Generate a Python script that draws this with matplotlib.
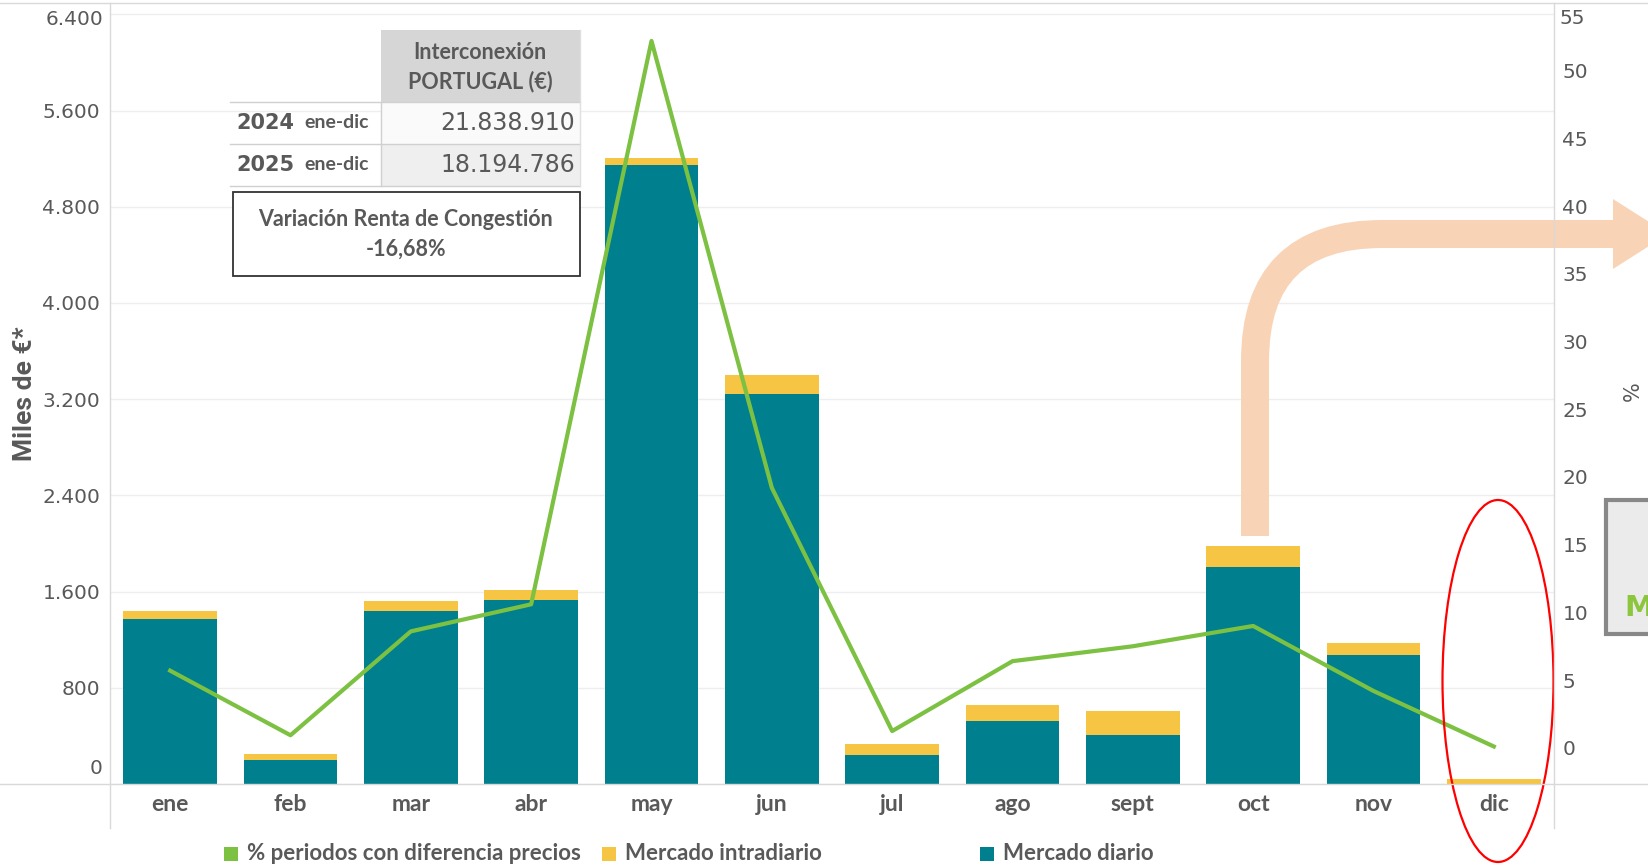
import matplotlib.pyplot as plt
from matplotlib.patches import Rectangle, Ellipse, Polygon
from matplotlib.path import Path
from matplotlib.patches import PathPatch
from matplotlib.ticker import FuncFormatter, MultipleLocator

# datos (miles de euros y %)
meses = ['ene', 'feb', 'mar', 'abr', 'may', 'jun', 'jul', 'ago', 'sept', 'oct', 'nov', 'dic']
mercado_diario = [1375, 202, 1435, 1531, 5145, 3246, 241, 525, 408, 1804, 1073, 0]
mercado_intradiario = [61, 48, 88, 79, 61, 158, 90, 132, 202, 177, 96, 40]
pct_periodos = [5.7, 0.93, 8.6, 10.6, 52.2, 19.2, 1.24, 6.4, 7.5, 9.0, 4.2, 0.1]

leyenda = ['% periodos con diferencia precios', 'Mercado intradiario', 'Mercado diario']
tabla_titulo = 'Interconexión\nPORTUGAL (€)'
tabla_anios = ['2024', '2025']
tabla_periodo = ['ene-dic', 'ene-dic']
tabla_valores = ['21.838.910', '18.194.786']
variacion = 'Variación Renta de Congestión\n-16,68%'

TEAL = '#007F8E'
YELLOW = '#F6C544'
GREEN = '#7CC142'
PEACH = '#F9D3B6'
GRAY = '#595959'
LINE = '#D9D9D9'

W, H = 1649, 867
fig = plt.figure(figsize=(W / 100, H / 100), dpi=100)

ax = fig.add_axes([110 / W, 1 - 784 / H, (1554 - 110) / W, (784 - 3) / H])
x = list(range(len(meses)))
ax.bar(x, mercado_diario, width=0.78, color=TEAL, zorder=2)
ax.bar(x, mercado_intradiario, width=0.78, bottom=mercado_diario, color=YELLOW, zorder=2)
ax.set_xlim(-0.5, 11.5)
ax.set_ylim(0, 6494)
ax.yaxis.set_major_locator(MultipleLocator(800))
ax.yaxis.set_major_formatter(FuncFormatter(lambda v, p: '' if v in (0, 6400) else f'{v:,.0f}'.replace(',', '.')))
ax.grid(axis='y', color='#EEEEEE', linewidth=1, zorder=0)
ax.set_xticks(x)
ax.set_xticklabels(meses, fontfamily='Lato', fontweight='bold', fontsize=16.5, color=GRAY)
ax.tick_params(axis='x', length=0, pad=7)
ax.tick_params(axis='y', length=0, pad=7, labelsize=14.5, labelcolor=GRAY)
for s in ax.spines.values():
    s.set_visible(False)
# Tableau desplaza hacia dentro las etiquetas de los extremos
ax.annotate('0', xy=(0, 0), xycoords=('axes fraction', 'data'), xytext=(-7, 15),
            textcoords='offset pixels', ha='right', va='center', fontsize=14.5, color=GRAY)
ax.annotate('6.400', xy=(0, 6400), xycoords=('axes fraction', 'data'), xytext=(-7, -5),
            textcoords='offset pixels', ha='right', va='center', fontsize=14.5, color=GRAY)
ax.set_ylabel('Miles de €*', fontfamily=['Roboto', 'DejaVu Sans'],
              fontweight='bold', fontsize=19, color=GRAY, labelpad=4)

ax2 = ax.twinx()
ax2.plot(x, pct_periodos, color=GREEN, linewidth=3, zorder=3)
ax2.set_ylim(-2.67, 55.0)
ax2.set_yticks(range(0, 56, 5))
ax2.yaxis.set_major_formatter(FuncFormatter(lambda v, p: '' if v == 55 else f'{v:.0f}'))
ax2.tick_params(axis='y', length=0, pad=6, labelsize=14.5, labelcolor=GRAY)
for s in ax2.spines.values():
    s.set_visible(False)
ax2.annotate('55', xy=(1, 55), xycoords=('axes fraction', 'data'), xytext=(6, -16),
             textcoords='offset pixels', ha='left', va='center', fontsize=14.5, color=GRAY)

# capa superior en pixeles para marco, tabla, leyenda y anotaciones
ov = fig.add_axes([0, 0, 1, 1], zorder=5)
ov.set_xlim(0, W)
ov.set_ylim(H, 0)
ov.axis('off')
ov.patch.set_alpha(0)

ov.plot([0, W], [3, 3], color=LINE, lw=1)
ov.plot([0, W], [784, 784], color=LINE, lw=1)
ov.plot([110, 110], [3, 828], color=LINE, lw=1)
ov.plot([1554, 1554], [3, 828], color=LINE, lw=1)

ov.text(1633, 391, '%', rotation=90, ha='center', va='center', fontsize=15, color=GRAY)

# tabla
ov.add_patch(Rectangle((381, 30), 199, 72, facecolor='#D6D6D6', edgecolor='none'))
ov.text(480, 67, tabla_titulo, ha='center', va='center', fontfamily='Lato',
        fontweight='bold', fontsize=15.5, color=GRAY, linespacing=1.45)
for i in range(2):
    y0 = 102 + i * 42
    ov.add_patch(Rectangle((381, y0), 199, 42, facecolor='#FAFAFA' if i == 0 else '#EFEFEF',
                           edgecolor='none'))
    ov.plot([230, 580], [y0, y0], color='#D0D0D0', lw=1)
    ov.text(236, y0 + 21, tabla_anios[i], ha='left', va='center', fontsize=15,
            fontweight='bold', color=GRAY)
    ov.text(304, y0 + 21, tabla_periodo[i], ha='left', va='center', fontfamily='Lato',
            fontweight='bold', fontsize=14, color=GRAY)
    ov.text(575, y0 + 21, tabla_valores[i], ha='right', va='center', fontsize=17, color=GRAY)
ov.plot([230, 580], [186, 186], color='#D0D0D0', lw=1)
ov.plot([381, 381], [102, 186], color='#D0D0D0', lw=1)
ov.plot([580, 580], [30, 186], color='#E0E0E0', lw=1)
ov.add_patch(Rectangle((233, 192), 347, 84, facecolor='white', edgecolor='#333333', lw=1.3))
ov.text(406, 234, variacion, ha='center', va='center', fontfamily='Lato',
        fontweight='bold', fontsize=15.5, color=GRAY, linespacing=1.5)

# flecha curva
r = 127
verts = [(1255, 536), (1255, 234 + r), (1255, 234), (1255 + r, 234), (1615, 234)]
codes = [Path.MOVETO, Path.LINETO, Path.CURVE3, Path.CURVE3, Path.LINETO]
ov.add_patch(PathPatch(Path(verts, codes), facecolor='none', edgecolor=PEACH,
                       lw=28 * 0.72, capstyle='butt', joinstyle='round'))
ov.add_patch(Polygon([(1613, 199), (1613, 269), (1668, 234)], closed=True,
                     facecolor=PEACH, edgecolor='none'))

# caja gris recortada a la derecha
ov.add_patch(Rectangle((1606, 500), 80, 134, facecolor='#EBEBEB', edgecolor='#888888', lw=3))
ov.text(1624, 608, 'M', ha='left', va='center', fontsize=21, fontweight='bold', color='#8CC63F')

# elipse roja
ov.add_patch(Ellipse((1498, 681), 111, 362, facecolor='none', edgecolor='red', lw=1.6))

# leyenda
colores = [GREEN, YELLOW, TEAL]
for i, (lab, c) in enumerate(zip(leyenda, colores)):
    x0 = 224 + i * 378
    ov.add_patch(Rectangle((x0, 847), 14, 14, facecolor=c, edgecolor='none'))
    ov.text(x0 + 23, 854, lab, ha='left', va='center', fontfamily='Lato',
            fontweight='bold', fontsize=16, color=GRAY)

fig.savefig('out.png', dpi=100)
